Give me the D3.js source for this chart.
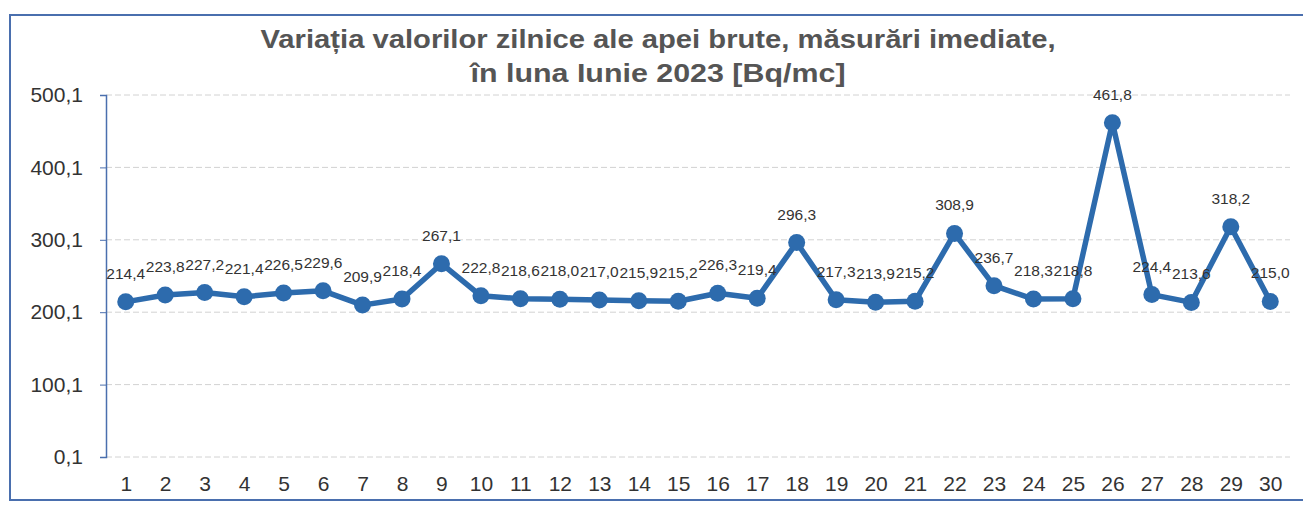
<!DOCTYPE html>
<html>
<head>
<meta charset="utf-8">
<script src="https://cdn.jsdelivr.net/npm/d3@7"></script>
<style>
  body { margin: 0; background: #fff; }
  text { font-family: "Liberation Sans", Arial, sans-serif; }
</style>
</head>
<body>
<script>
(function chart(){
  var days = d3.range(1, 31);
  var values = [214.4, 223.8, 227.2, 221.4, 226.5, 229.6, 209.9, 218.4, 267.1, 222.8,
                218.6, 218.0, 217.0, 215.9, 215.2, 226.3, 219.4, 296.3, 217.3, 213.9,
                215.2, 308.9, 236.7, 218.3, 218.8, 461.8, 224.4, 213.6, 318.2, 215.0];
  var yTicks = [0.1, 100.1, 200.1, 300.1, 400.1, 500.1];
  var titleLines = ["Variația valorilor zilnice ale apei brute, măsurări imediate,",
                    "în luna Iunie 2023 [Bq/mc]"];

  var data = days.map(function(d, i){ return {day: d, v: values[i]}; });
  var fmt = function(v){ return d3.format(".1f")(v).replace(".", ","); };

  var svg = d3.select("body").append("svg")
    .attr("width", 1303)
    .attr("height", 506);

  // outer chart frame (right edge runs off the page like in the scan)
  svg.append("rect")
    .attr("x", 10).attr("y", 15)
    .attr("width", 1320).attr("height", 485)
    .attr("fill", "none")
    .attr("stroke", "#4a6fae")
    .attr("stroke-width", 2);

  var left = 106, right = 1290, top = 95, bottom = 457;

  var x = d3.scalePoint().domain(days).range([left, right]).padding(0.5);
  var y = d3.scaleLinear().domain([0.1, 500.1]).range([bottom, top]);

  // title, stretched a bit wider like the scanned one
  svg.append("g").selectAll("text").data(titleLines).enter().append("text")
    .attr("x", 658)
    .attr("y", function(d, i){ return 48 + i * 34; })
    .attr("text-anchor", "middle")
    .attr("font-size", 26)
    .attr("font-weight", "bold")
    .attr("fill", "#555")
    .attr("textLength", function(d, i){ return i ? 375 : 795; })
    .attr("lengthAdjust", "spacingAndGlyphs")
    .text(function(d){ return d; });

  // gridlines
  svg.append("g").selectAll("line").data(yTicks).enter().append("line")
    .attr("x1", left).attr("x2", right)
    .attr("y1", function(d){ return y(d); })
    .attr("y2", function(d){ return y(d); })
    .attr("stroke", "#d2d2d2")
    .attr("stroke-dasharray", "6,3");

  // y axis
  var yAxis = svg.append("g")
    .attr("transform", "translate(" + left + ",0)")
    .call(d3.axisLeft(y).tickValues(yTicks).tickSize(6).tickPadding(17).tickFormat(fmt));
  yAxis.select(".domain").attr("stroke", "#4a6fae").attr("stroke-width", 1.5);
  yAxis.selectAll(".tick line").attr("stroke", "#4a6fae");
  yAxis.selectAll("text").attr("font-size", 21).attr("fill", "#333")
    .attr("font-family", "Liberation Sans, Arial, sans-serif");

  // x axis labels
  var xAxis = svg.append("g")
    .attr("transform", "translate(0," + bottom + ")")
    .call(d3.axisBottom(x).tickSize(0).tickPadding(19));
  xAxis.select(".domain").remove();
  xAxis.selectAll("text").attr("font-size", 21).attr("fill", "#333")
    .attr("font-family", "Liberation Sans, Arial, sans-serif");

  // series line
  var line = d3.line()
    .x(function(d){ return x(d.day); })
    .y(function(d){ return y(d.v); });

  svg.append("path")
    .datum(data)
    .attr("d", line)
    .attr("fill", "none")
    .attr("stroke", "#2d6bad")
    .attr("stroke-width", 5.5)
    .attr("stroke-linejoin", "round");

  svg.append("g").selectAll("circle").data(data).enter().append("circle")
    .attr("cx", function(d){ return x(d.day); })
    .attr("cy", function(d){ return y(d.v); })
    .attr("r", 8.5)
    .attr("fill", "#2d6bad");

  // value labels
  svg.append("g").selectAll("text").data(data).enter().append("text")
    .attr("x", function(d){ return x(d.day); })
    .attr("y", function(d){ return y(d.v) - 23; })
    .attr("text-anchor", "middle")
    .attr("font-size", 15.5)
    .attr("fill", "#333")
    .text(function(d){ return fmt(d.v); });
})();
</script>
</body>
</html>
